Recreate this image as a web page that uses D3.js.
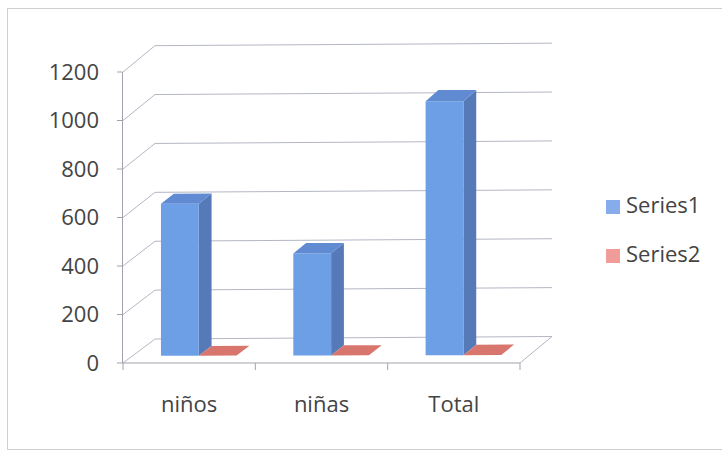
<!DOCTYPE html>
<html>
<head>
<meta charset="utf-8">
<script src="https://cdn.jsdelivr.net/npm/d3@7"></script>
<style>
  html, body { margin: 0; padding: 0; background: #fff; }
  svg { display: block; }
  text { font-family: "Open Sans", "Noto Sans", sans-serif; fill: #444444; }
</style>
</head>
<body>
<svg id="chart" width="722" height="451"></svg>
<script>
// Chart data
const categories = ["niños", "niñas", "Total"];
const seriesNames = ["Series1", "Series2"];
const series1 = [625, 420, 1045];
const series2 = [0, 0, 0];
const yTicks = [0, 200, 400, 600, 800, 1000, 1200];

const svg = d3.select("#chart");

// Outer frame
svg.append("rect")
  .attr("x", 7.5).attr("y", 8.5)
  .attr("width", 730).attr("height", 441)
  .attr("fill", "none").attr("stroke", "#cfcfcf").attr("stroke-width", 1);

// Front plane scales
const x = d3.scaleBand().domain(categories).range([123, 520]).paddingInner(0).paddingOuter(0);
const y = d3.scaleLinear().domain([0, 1200]).range([363, 72]);

// Depth projection: z = 0 front, z = 1 back wall
const depthX = 32, depthY = 24, persp = 0.008, tilt = 2.5;
function proj(xf, v, z) {
  const h = (y(0) - y(v)) * (1 + persp * z);
  const t = (xf - 123) / (520 - 123);
  return [xf + z * depthX, y(0) - z * depthY - h - z * t * tilt];
}
const pt = p => p[0].toFixed(2) + "," + p[1].toFixed(2);

const gridColor = "#b3b7c4";
const axisColor = "#a0a3ab";

// Back wall gridlines and side wall gridlines
const grid = svg.append("g").attr("fill", "none").attr("stroke-width", 1);
yTicks.forEach(v => {
  const a = proj(123, v, 0), b = proj(123, v, 1), c = proj(520, v, 1);
  grid.append("polyline")
    .attr("points", [a, b, c].map(pt).join(" "))
    .attr("stroke", gridColor);
});

// Floor right edge
grid.append("line")
  .attr("x1", proj(520, 0, 0)[0]).attr("y1", proj(520, 0, 0)[1])
  .attr("x2", proj(520, 0, 1)[0]).attr("y2", proj(520, 0, 1)[1])
  .attr("stroke", gridColor);

// Bars (clustered, gap width 150%, centred in depth)
const barW = x.bandwidth() / 3.5;
const z0 = 0.3, z1 = 0.7;
const palettes = [
  { front: "#6d9fe6", side: "#5679b8", top: "#608bd2" },
  { front: "#d9766e", side: "#b85d57", top: "#d8756d" }
];
const values = [series1, series2];

const bars = svg.append("g");
categories.forEach((cat, i) => {
  values.forEach((vals, s) => {
    const v = vals[i];
    const xl = x(cat) + barW * (0.75 + s);
    const xr = xl + barW;
    const col = palettes[s];
    const fbl = proj(xl, 0, z0), fbr = proj(xr, 0, z0);
    const ftl = proj(xl, v, z0), ftr = proj(xr, v, z0);
    const bbr = proj(xr, 0, z1), btr = proj(xr, v, z1), btl = proj(xl, v, z1);
    if (v > 0) {
      bars.append("polygon").attr("points", [fbr, bbr, btr, ftr].map(pt).join(" ")).attr("fill", col.side);
      bars.append("polygon").attr("points", [fbl, fbr, ftr, ftl].map(pt).join(" ")).attr("fill", col.front);
    }
    bars.append("polygon").attr("points", [ftl, ftr, btr, btl].map(pt).join(" ")).attr("fill", col.top);
  });
});

// Value axis (front-left edge)
const axisG = svg.append("g").attr("stroke", axisColor).attr("stroke-width", 1);
axisG.append("line").attr("x1", 122.5).attr("x2", 122.5).attr("y1", y(1200)).attr("y2", y(0));
yTicks.forEach(v => {
  axisG.append("line").attr("x1", 117).attr("x2", 122.5).attr("y1", y(v)).attr("y2", y(v));
});
svg.append("g").selectAll("text").data(yTicks).join("text")
  .attr("x", 99).attr("y", d => y(d)).attr("dy", "0.35em")
  .attr("text-anchor", "end").attr("font-size", 22)
  .text(d => d);

// Category axis (front floor edge)
axisG.append("line").attr("x1", 122.5).attr("x2", 520).attr("y1", y(0)).attr("y2", y(0));
const edges = categories.map(c => x(c)).concat([x.range()[1]]);
edges.forEach(e => {
  axisG.append("line").attr("x1", e).attr("x2", e).attr("y1", y(0)).attr("y2", y(0) + 7);
});
svg.append("g").selectAll("text").data(categories).join("text")
  .attr("x", d => x(d) + x.bandwidth() / 2).attr("y", 412)
  .attr("text-anchor", "middle").attr("font-size", 22)
  .text(d => d);

// Legend
const legendColors = ["#86aceb", "#f09c98"];
const legend = svg.append("g");
seriesNames.forEach((name, i) => {
  const ly = 213 + i * 49;
  legend.append("rect").attr("x", 606).attr("y", ly - 13).attr("width", 14).attr("height", 14)
    .attr("fill", legendColors[i]);
  legend.append("text").attr("x", 626).attr("y", ly).attr("font-size", 22).text(name);
});
</script>
</body>
</html>
